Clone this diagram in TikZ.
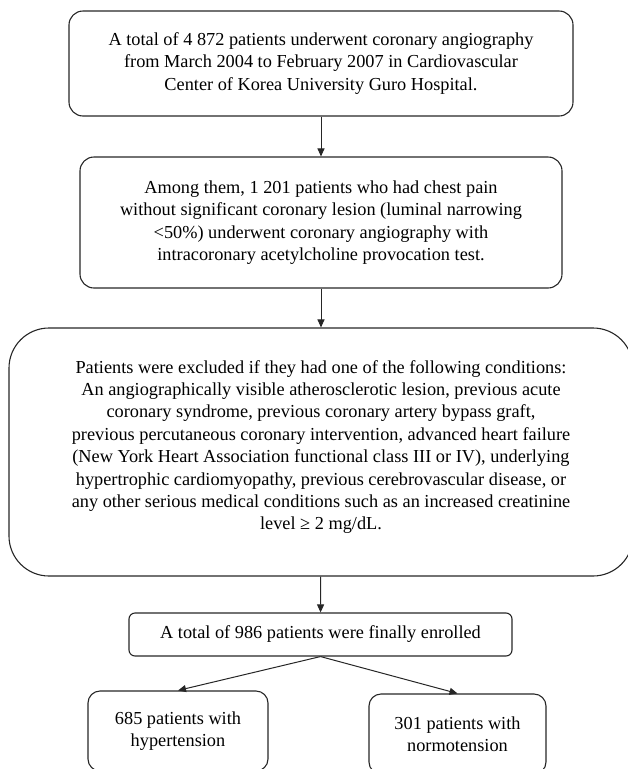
\documentclass[tikz,border=0pt]{standalone}
\usepackage{fontspec}
\setmainfont{Liberation Serif}
\usetikzlibrary{arrows.meta}
\begin{document}
\begin{tikzpicture}[x=1pt, y=-1pt, line width=1.1pt, every node/.style={rectangle, draw=black!85, align=center, inner sep=0pt, font=\fontsize{18.3}{22.4}\selectfont}]
					\clip (0,0) rectangle (628,769);
					\node (1) at (321,63.5) [rounded corners=14pt, minimum width=504pt, minimum height=105pt] {A total of 4~872 patients underwent coronary angiography\\from March 2004 to February 2007 in Cardiovascular\\Center of Korea University Guro Hospital.};
					\node (2) at (321,222.5) [rounded corners=14pt, minimum width=482pt, minimum height=131pt] {Among them, 1~201 patients who had chest pain\\without significant coronary lesion (luminal narrowing\\<50\%) underwent coronary angiography with\\intracoronary acetylcholine provocation test.};
					\node (3) at (321,452) [rounded corners=40pt, minimum width=624pt, minimum height=248pt] {Patients were excluded if they had one of the following conditions:\\An angiographically visible atherosclerotic lesion, previous acute\\coronary syndrome, previous coronary artery bypass graft,\\previous percutaneous coronary intervention, advanced heart failure\\(New York Heart Association functional class III or IV), underlying\\hypertrophic cardiomyopathy, previous cerebrovascular disease, or\\any other serious medical conditions such as an increased creatinine\\level ≥ 2 mg/dL.\\[-8.4pt]};
					\node (4) at (320.5,634.5) [rounded corners=6pt, minimum width=383pt, minimum height=43pt] {A total of 986 patients were finally enrolled};
					\node (5) at (178,731) [rounded corners=12pt, minimum width=180pt, minimum height=80pt] {685 patients with\\hypertension};
					\node (6) at (457.5,734) [rounded corners=12pt, minimum width=177pt, minimum height=80pt] {301 patients with\\normotension};
					
					\draw[-{Triangle[length=8pt,width=7pt]}, line width=1pt, black!85] (1) to (2);
					\draw[-{Triangle[length=8pt,width=7pt]}, line width=1pt, black!85] (2) to (3);
					\draw[-{Triangle[length=8pt,width=7pt]}, line width=1pt, black!85] (3) to (4);
					\draw[-{Triangle[length=8pt,width=7pt]}, line width=1pt, black!85] (4.south) to (5.north);
					\draw[-{Triangle[length=8pt,width=7pt]}, line width=1pt, black!85] (4.south) to (6.north);
					
				\end{tikzpicture}
\end{document}
